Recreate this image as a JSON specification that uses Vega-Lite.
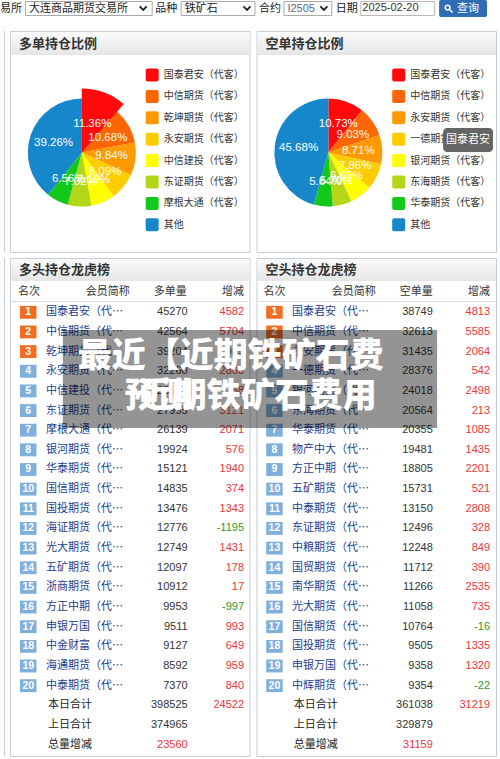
{
  "$schema": "https://vega.github.io/schema/vega-lite/v6.json",
  "width": 500,
  "height": 759,
  "autosize": {"type": "fit", "contains": "padding"},
  "padding": 0,
  "background": "white",
  "config": {"view": {"stroke": null}, "axis": {"disable": true}, "legend": {"disable": true}},
  "datasets": {
    "one": [{"k": 0}],
    "pieL": [
      {"rank": 1, "name": "国泰君安（代客）", "pct": 0.1136},
      {"rank": 2, "name": "中信期货（代客）", "pct": 0.1068},
      {"rank": 3, "name": "乾坤期货（代客）", "pct": 0.0984},
      {"rank": 4, "name": "永安期货（代客）", "pct": 0.0809},
      {"rank": 5, "name": "中信建投（代客）", "pct": 0.0719},
      {"rank": 6, "name": "东证期货（代客）", "pct": 0.0702},
      {"rank": 7, "name": "摩根大通（代客）", "pct": 0.0656},
      {"rank": 8, "name": "其他", "pct": 0.3926}
    ],
    "pieR": [
      {"rank": 1, "name": "国泰君安（代客）", "pct": 0.1073},
      {"rank": 2, "name": "中信期货（代客）", "pct": 0.0903},
      {"rank": 3, "name": "永安期货（代客）", "pct": 0.0871},
      {"rank": 4, "name": "一德期货（代客）", "pct": 0.0786},
      {"rank": 5, "name": "银河期货（代客）", "pct": 0.0665},
      {"rank": 6, "name": "东海期货（代客）", "pct": 0.0570},
      {"rank": 7, "name": "华泰期货（代客）", "pct": 0.0564},
      {"rank": 8, "name": "其他", "pct": 0.4568}
    ],
    "longL": [
      {"rank": 1, "name": "国泰君安（代客）", "vol": 45270, "chg": 4582},
      {"rank": 2, "name": "中信期货（代客）", "vol": 42564, "chg": 5704},
      {"rank": 3, "name": "乾坤期货（代客）", "vol": 39204, "chg": -985},
      {"rank": 4, "name": "永安期货（代客）", "vol": 32260, "chg": 2863},
      {"rank": 5, "name": "中信建投（代客）", "vol": 28650, "chg": 58},
      {"rank": 6, "name": "东证期货（代客）", "vol": 27995, "chg": 3121},
      {"rank": 7, "name": "摩根大通（代客）", "vol": 26139, "chg": 2071},
      {"rank": 8, "name": "银河期货（代客）", "vol": 19924, "chg": 576},
      {"rank": 9, "name": "华泰期货（代客）", "vol": 15121, "chg": 1940},
      {"rank": 10, "name": "国信期货（代客）", "vol": 14835, "chg": 374},
      {"rank": 11, "name": "国投期货（代客）", "vol": 13476, "chg": 1343},
      {"rank": 12, "name": "海证期货（代客）", "vol": 12776, "chg": -1195},
      {"rank": 13, "name": "光大期货（代客）", "vol": 12749, "chg": 1431},
      {"rank": 14, "name": "五矿期货（代客）", "vol": 12097, "chg": 178},
      {"rank": 15, "name": "浙商期货（代客）", "vol": 10912, "chg": 17},
      {"rank": 16, "name": "方正中期（代客）", "vol": 9953, "chg": -997},
      {"rank": 17, "name": "申银万国（代客）", "vol": 9511, "chg": 993},
      {"rank": 18, "name": "中金财富（代客）", "vol": 9127, "chg": 649},
      {"rank": 19, "name": "海通期货（代客）", "vol": 8592, "chg": 959},
      {"rank": 20, "name": "中泰期货（代客）", "vol": 7370, "chg": 840}
    ],
    "shortR": [
      {"rank": 1, "name": "国泰君安（代客）", "vol": 38749, "chg": 4813},
      {"rank": 2, "name": "中信期货（代客）", "vol": 32613, "chg": 5585},
      {"rank": 3, "name": "永安期货（代客）", "vol": 31435, "chg": 2064},
      {"rank": 4, "name": "一德期货（代客）", "vol": 28376, "chg": 542},
      {"rank": 5, "name": "银河期货（代客）", "vol": 24018, "chg": 2498},
      {"rank": 6, "name": "东海期货（代客）", "vol": 20564, "chg": 213},
      {"rank": 7, "name": "华泰期货（代客）", "vol": 20355, "chg": 1085},
      {"rank": 8, "name": "物产中大（代客）", "vol": 19481, "chg": 1435},
      {"rank": 9, "name": "方正中期（代客）", "vol": 18805, "chg": 2201},
      {"rank": 10, "name": "五矿期货（代客）", "vol": 15731, "chg": 521},
      {"rank": 11, "name": "中泰期货（代客）", "vol": 13150, "chg": 2808},
      {"rank": 12, "name": "东证期货（代客）", "vol": 12496, "chg": 328},
      {"rank": 13, "name": "中粮期货（代客）", "vol": 12248, "chg": 849},
      {"rank": 14, "name": "国贸期货（代客）", "vol": 11712, "chg": 390},
      {"rank": 15, "name": "南华期货（代客）", "vol": 11266, "chg": 2535},
      {"rank": 16, "name": "光大期货（代客）", "vol": 11058, "chg": 735},
      {"rank": 17, "name": "国信期货（代客）", "vol": 10764, "chg": -16},
      {"rank": 18, "name": "国投期货（代客）", "vol": 9505, "chg": 1335},
      {"rank": 19, "name": "申银万国（代客）", "vol": 9358, "chg": 1320},
      {"rank": 20, "name": "中辉期货（代客）", "vol": 9354, "chg": -22}
    ],
    "sumL": [
      {"rank": 21, "label": "本日合计", "vol": 398525, "chg": 24522},
      {"rank": 22, "label": "上日合计", "vol": 374965},
      {"rank": 23, "label": "总量增减", "diff": 23560}
    ],
    "sumR": [
      {"rank": 21, "label": "本日合计", "vol": 361038, "chg": 31219},
      {"rank": 22, "label": "上日合计", "vol": 329879},
      {"rank": 23, "label": "总量增减", "diff": 31159}
    ]
  },
  "resolve": {"scale": {"y": "independent"}},
  "layer": [
    {
      "data": {"name": "one"},
      "layer": [
        {"mark": {"type": "rule", "color": "#c5ced8"}, "encoding": {"x": {"datum": 3.5, "scale": {"domain": [0, 500], "nice": false, "zero": false}}, "y": {"datum": 31, "scale": {"domain": [0, 759], "reverse": true, "nice": false, "zero": false}}, "y2": {"datum": 252}}},
        {"mark": {"type": "rule", "color": "#c5ced8"}, "encoding": {"x": {"datum": 3.5}, "y": {"datum": 258}, "y2": {"datum": 756}}},
        {"mark": {"type": "rect", "fill": "#ffffff", "stroke": "#c5ced8", "strokeWidth": 1}, "encoding": {"x": {"datum": 9.5}, "x2": {"datum": 249.5}, "y": {"datum": 31.5}, "y2": {"datum": 252.5}}},
        {"mark": {"type": "rect", "fill": "#ffffff", "stroke": "#c5ced8", "strokeWidth": 1}, "encoding": {"x": {"datum": 256.5}, "x2": {"datum": 496.5}, "y": {"datum": 31.5}, "y2": {"datum": 252.5}}},
        {"mark": {"type": "rect", "fill": "#ffffff", "stroke": "#c5ced8", "strokeWidth": 1}, "encoding": {"x": {"datum": 9.5}, "x2": {"datum": 249.5}, "y": {"datum": 258.5}, "y2": {"datum": 756.5}}},
        {"mark": {"type": "rect", "fill": "#ffffff", "stroke": "#c5ced8", "strokeWidth": 1}, "encoding": {"x": {"datum": 256.5}, "x2": {"datum": 496.5}, "y": {"datum": 258.5}, "y2": {"datum": 756.5}}},
        {"mark": {"type": "rect", "fill": {"gradient": "linear", "x1": 0, "y1": 0, "x2": 0, "y2": 1, "stops": [{"offset": 0, "color": "#fbfbfb"}, {"offset": 1, "color": "#e5e5e5"}]}}, "encoding": {"x": {"datum": 10}, "x2": {"datum": 249}, "y": {"datum": 32}, "y2": {"datum": 55}}},
        {"mark": {"type": "rect", "fill": {"gradient": "linear", "x1": 0, "y1": 0, "x2": 0, "y2": 1, "stops": [{"offset": 0, "color": "#fbfbfb"}, {"offset": 1, "color": "#e5e5e5"}]}}, "encoding": {"x": {"datum": 257}, "x2": {"datum": 496}, "y": {"datum": 32}, "y2": {"datum": 55}}},
        {"mark": {"type": "rect", "fill": {"gradient": "linear", "x1": 0, "y1": 0, "x2": 0, "y2": 1, "stops": [{"offset": 0, "color": "#fbfbfb"}, {"offset": 1, "color": "#e5e5e5"}]}}, "encoding": {"x": {"datum": 10}, "x2": {"datum": 249}, "y": {"datum": 259}, "y2": {"datum": 281}}},
        {"mark": {"type": "rect", "fill": {"gradient": "linear", "x1": 0, "y1": 0, "x2": 0, "y2": 1, "stops": [{"offset": 0, "color": "#fbfbfb"}, {"offset": 1, "color": "#e5e5e5"}]}}, "encoding": {"x": {"datum": 257}, "x2": {"datum": 496}, "y": {"datum": 259}, "y2": {"datum": 281}}},
        {"mark": {"type": "text", "text": "多单持仓比例", "align": "left", "baseline": "middle", "font": "Noto Sans CJK SC", "fontSize": 13, "fontWeight": "bold", "color": "#333333"}, "encoding": {"x": {"datum": 18}, "y": {"datum": 43.5}}},
        {"mark": {"type": "text", "text": "空单持仓比例", "align": "left", "baseline": "middle", "font": "Noto Sans CJK SC", "fontSize": 13, "fontWeight": "bold", "color": "#333333"}, "encoding": {"x": {"datum": 265}, "y": {"datum": 43.5}}},
        {"mark": {"type": "text", "text": "多头持仓龙虎榜", "align": "left", "baseline": "middle", "font": "Noto Sans CJK SC", "fontSize": 13, "fontWeight": "bold", "color": "#333333"}, "encoding": {"x": {"datum": 18}, "y": {"datum": 270}}},
        {"mark": {"type": "text", "text": "空头持仓龙虎榜", "align": "left", "baseline": "middle", "font": "Noto Sans CJK SC", "fontSize": 13, "fontWeight": "bold", "color": "#333333"}, "encoding": {"x": {"datum": 265}, "y": {"datum": 270}}},
        {"mark": {"type": "text", "text": "名次", "align": "left", "baseline": "middle", "font": "Noto Sans CJK SC", "fontSize": 11, "color": "#333333"}, "encoding": {"x": {"datum": 17}, "y": {"datum": 292}}},
        {"mark": {"type": "text", "text": "会员简称", "align": "center", "baseline": "middle", "font": "Noto Sans CJK SC", "fontSize": 11, "color": "#333333"}, "encoding": {"x": {"datum": 107}, "y": {"datum": 292}}},
        {"mark": {"type": "text", "text": "多单量", "align": "center", "baseline": "middle", "font": "Noto Sans CJK SC", "fontSize": 11, "color": "#333333"}, "encoding": {"x": {"datum": 169.5}, "y": {"datum": 292}}},
        {"mark": {"type": "text", "text": "增减", "align": "right", "baseline": "middle", "font": "Noto Sans CJK SC", "fontSize": 11, "color": "#333333"}, "encoding": {"x": {"datum": 243.5}, "y": {"datum": 292}}},
        {"mark": {"type": "text", "text": "名次", "align": "left", "baseline": "middle", "font": "Noto Sans CJK SC", "fontSize": 11, "color": "#333333"}, "encoding": {"x": {"datum": 263}, "y": {"datum": 292}}},
        {"mark": {"type": "text", "text": "会员简称", "align": "center", "baseline": "middle", "font": "Noto Sans CJK SC", "fontSize": 11, "color": "#333333"}, "encoding": {"x": {"datum": 353.5}, "y": {"datum": 292}}},
        {"mark": {"type": "text", "text": "空单量", "align": "center", "baseline": "middle", "font": "Noto Sans CJK SC", "fontSize": 11, "color": "#333333"}, "encoding": {"x": {"datum": 416}, "y": {"datum": 292}}},
        {"mark": {"type": "text", "text": "增减", "align": "right", "baseline": "middle", "font": "Noto Sans CJK SC", "fontSize": 11, "color": "#333333"}, "encoding": {"x": {"datum": 490}, "y": {"datum": 292}}},
        {"mark": {"type": "rule", "color": "#d6dde5"}, "encoding": {"x": {"datum": 10}, "x2": {"datum": 249}, "y": {"datum": 301.5}}},
        {"mark": {"type": "rule", "color": "#d6dde5"}, "encoding": {"x": {"datum": 257}, "x2": {"datum": 496}, "y": {"datum": 301.5}}},
        {"mark": {"type": "rect", "fill": "#ffffff", "stroke": "#a9a9a9"}, "encoding": {"x": {"datum": 24.5}, "x2": {"datum": 151.5}, "y": {"datum": 1.5}, "y2": {"datum": 15.5}}},
        {"mark": {"type": "rect", "fill": "#ffffff", "stroke": "#a9a9a9"}, "encoding": {"x": {"datum": 180.5}, "x2": {"datum": 254.5}, "y": {"datum": 1.5}, "y2": {"datum": 15.5}}},
        {"mark": {"type": "rect", "fill": "#ffffff", "stroke": "#a9a9a9"}, "encoding": {"x": {"datum": 283.5}, "x2": {"datum": 331.5}, "y": {"datum": 1.5}, "y2": {"datum": 15.5}}},
        {"mark": {"type": "rect", "fill": "#ffffff", "stroke": "#b8b8b8"}, "encoding": {"x": {"datum": 360.5}, "x2": {"datum": 434.5}, "y": {"datum": 1.5}, "y2": {"datum": 15.5}}},
        {"mark": {"type": "rect", "fill": "#2f6db4", "cornerRadius": 2}, "encoding": {"x": {"datum": 439}, "x2": {"datum": 487}, "y": {"datum": 0}, "y2": {"datum": 17}}},
        {"mark": {"type": "text", "text": "易所", "align": "left", "baseline": "middle", "font": "Noto Sans CJK SC", "fontSize": 11, "color": "#222222"}, "encoding": {"x": {"datum": -1}, "y": {"datum": 8.5}}},
        {"mark": {"type": "text", "text": "大连商品期货交易所", "align": "left", "baseline": "middle", "font": "Noto Sans CJK SC", "fontSize": 11, "color": "#222222"}, "encoding": {"x": {"datum": 28}, "y": {"datum": 8.5}}},
        {"mark": {"type": "text", "text": "品种", "align": "left", "baseline": "middle", "font": "Noto Sans CJK SC", "fontSize": 11, "color": "#222222"}, "encoding": {"x": {"datum": 154.5}, "y": {"datum": 8.5}}},
        {"mark": {"type": "text", "text": "铁矿石", "align": "left", "baseline": "middle", "font": "Noto Sans CJK SC", "fontSize": 11, "color": "#222222"}, "encoding": {"x": {"datum": 184}, "y": {"datum": 8.5}}},
        {"mark": {"type": "text", "text": "合约", "align": "left", "baseline": "middle", "font": "Noto Sans CJK SC", "fontSize": 11, "color": "#222222"}, "encoding": {"x": {"datum": 258.5}, "y": {"datum": 8.5}}},
        {"mark": {"type": "text", "text": "I2505", "align": "left", "baseline": "middle", "font": "Liberation Sans", "fontSize": 11, "color": "#5c6a8c"}, "encoding": {"x": {"datum": 287}, "y": {"datum": 8.5}}},
        {"mark": {"type": "text", "text": "日期", "align": "left", "baseline": "middle", "font": "Noto Sans CJK SC", "fontSize": 11, "color": "#222222"}, "encoding": {"x": {"datum": 335.5}, "y": {"datum": 8.5}}},
        {"mark": {"type": "text", "text": "2025-02-20", "align": "left", "baseline": "middle", "font": "Liberation Sans", "fontSize": 11, "color": "#333333"}, "encoding": {"x": {"datum": 362}, "y": {"datum": 8}}},
        {"mark": {"type": "text", "text": "查询", "align": "left", "baseline": "middle", "font": "Noto Sans CJK SC", "fontSize": 11, "color": "#ffffff"}, "encoding": {"x": {"datum": 457}, "y": {"datum": 8.5}}},
        {"mark": {"type": "point", "shape": "circle", "size": 22, "filled": false, "stroke": "#ffffff", "strokeWidth": 1.5, "opacity": 1}, "encoding": {"x": {"datum": 447.5}, "y": {"datum": 7.5}}},
        {"mark": {"type": "rule", "color": "#ffffff", "strokeWidth": 1.6}, "encoding": {"x": {"datum": 449.5}, "x2": {"datum": 452.5}, "y": {"datum": 9.5}, "y2": {"datum": 12.5}}},
        {"mark": {"type": "point", "shape": "M-1,-0.45L0,0.55L1,-0.45", "size": 50, "filled": false, "stroke": "#222222", "strokeWidth": 1.8, "opacity": 1}, "encoding": {"x": {"datum": 142.5}, "y": {"datum": 8}}},
        {"mark": {"type": "point", "shape": "M-1,-0.45L0,0.55L1,-0.45", "size": 50, "filled": false, "stroke": "#222222", "strokeWidth": 1.8, "opacity": 1}, "encoding": {"x": {"datum": 246.5}, "y": {"datum": 8}}},
        {"mark": {"type": "point", "shape": "M-1,-0.45L0,0.55L1,-0.45", "size": 50, "filled": false, "stroke": "#222222", "strokeWidth": 1.8, "opacity": 1}, "encoding": {"x": {"datum": 323.5}, "y": {"datum": 8}}},
        {
          "data": {"name": "pieL"},
          "mark": {"type": "arc", "outerRadius": 54},
          "encoding": {
            "x": {"datum": 81}, "y": {"datum": 152.5},
            "theta": {"field": "pct", "type": "quantitative", "stack": true, "scale": {"domain": [0, 1]}},
            "order": {"field": "rank", "type": "quantitative"},
            "color": {"field": "rank", "type": "ordinal", "scale": {"domain": [1, 2, 3, 4, 5, 6, 7, 8], "range": ["#ff0a0a", "#ff6600", "#ff9900", "#ffcc00", "#ffff00", "#b3d718", "#12c81a", "#1787cc"]}}
          }
        },
        {
          "data": {"name": "pieL"},
          "transform": [{"filter": "datum.rank == 1"}],
          "mark": {"type": "arc", "outerRadius": 64},
          "encoding": {
            "x": {"datum": 81}, "y": {"datum": 152.5},
            "theta": {"field": "pct", "type": "quantitative", "stack": true},
            "order": {"field": "rank", "type": "quantitative"},
            "color": {"field": "rank", "type": "ordinal"}
          }
        },
        {
          "data": {"name": "pieL"},
          "mark": {"type": "text", "radius": 30, "align": "center", "baseline": "middle", "font": "Liberation Sans", "fontSize": 11.5, "color": "#ffffff"},
          "encoding": {
            "x": {"datum": 81}, "y": {"datum": 152.5},
            "theta": {"field": "pct", "type": "quantitative", "stack": true},
            "order": {"field": "rank", "type": "quantitative"},
            "text": {"field": "pct", "type": "quantitative", "format": ".2%"}
          }
        },
        {
          "data": {"name": "pieR"},
          "mark": {"type": "arc", "outerRadius": 54},
          "encoding": {
            "x": {"datum": 328}, "y": {"datum": 152.5},
            "theta": {"field": "pct", "type": "quantitative", "stack": true},
            "order": {"field": "rank", "type": "quantitative"},
            "color": {"field": "rank", "type": "ordinal"}
          }
        },
        {
          "data": {"name": "pieR"},
          "mark": {"type": "text", "radius": 30, "align": "center", "baseline": "middle", "font": "Liberation Sans", "fontSize": 11.5, "color": "#ffffff"},
          "encoding": {
            "x": {"datum": 328}, "y": {"datum": 152.5},
            "theta": {"field": "pct", "type": "quantitative", "stack": true},
            "order": {"field": "rank", "type": "quantitative"},
            "text": {"field": "pct", "type": "quantitative", "format": ".2%"}
          }
        }
      ]
    },
    {
      "layer": [
        {
          "data": {"name": "pieL"},
          "mark": {"type": "point", "shape": "M-0.7,-1H0.7Q1,-1 1,-0.7V0.7Q1,1 0.7,1H-0.7Q-1,1 -1,0.7V-0.7Q-1,-1 -0.7,-1Z", "size": 169, "filled": true, "opacity": 1, "strokeWidth": 0},
          "encoding": {
            "x": {"datum": 151.5},
            "y": {"field": "rank", "type": "quantitative", "scale": {"domain": [-2.5047, 32.963], "reverse": true, "nice": false, "zero": false}},
            "color": {"field": "rank", "type": "ordinal"}
          }
        },
        {
          "data": {"name": "pieL"},
          "mark": {"type": "text", "align": "left", "baseline": "middle", "font": "Noto Sans CJK SC", "fontSize": 10, "color": "#333333"},
          "encoding": {"x": {"datum": 163}, "y": {"field": "rank", "type": "quantitative"}, "text": {"field": "name"}}
        },
        {
          "data": {"name": "pieR"},
          "mark": {"type": "point", "shape": "M-0.7,-1H0.7Q1,-1 1,-0.7V0.7Q1,1 0.7,1H-0.7Q-1,1 -1,0.7V-0.7Q-1,-1 -0.7,-1Z", "size": 169, "filled": true, "opacity": 1, "strokeWidth": 0},
          "encoding": {"x": {"datum": 398.5}, "y": {"field": "rank", "type": "quantitative"}, "color": {"field": "rank", "type": "ordinal"}}
        },
        {
          "data": {"name": "pieR"},
          "mark": {"type": "text", "align": "left", "baseline": "middle", "font": "Noto Sans CJK SC", "fontSize": 10, "color": "#333333"},
          "encoding": {"x": {"datum": 410}, "y": {"field": "rank", "type": "quantitative"}, "text": {"field": "name"}}
        }
      ]
    },
    {
      "layer": [
        {
          "data": {"name": "longL"},
          "mark": {"type": "point", "shape": "M-1,-0.78H1V0.78H-1Z", "size": 272, "filled": true, "opacity": 1, "strokeWidth": 0},
          "encoding": {
            "x": {"datum": 27.3},
            "y": {"field": "rank", "type": "quantitative", "scale": {"domain": [-14.893, 23.733], "reverse": true, "nice": false, "zero": false}},
            "color": {"condition": {"test": "datum.rank <= 3", "value": "#f26d21"}, "value": "#7fb0dc"}
          }
        },
        {
          "data": {"name": "longL"},
          "mark": {"type": "text", "align": "center", "baseline": "middle", "font": "Liberation Sans", "fontSize": 10.5, "fontWeight": "bold", "color": "#ffffff"},
          "encoding": {"x": {"datum": 27.3}, "y": {"field": "rank", "type": "quantitative"}, "text": {"field": "rank", "type": "nominal"}}
        },
        {
          "data": {"name": "longL"},
          "mark": {"type": "text", "align": "left", "baseline": "middle", "font": "Noto Sans CJK SC", "fontSize": 11, "color": "#23408e", "limit": 79},
          "encoding": {"x": {"datum": 45}, "y": {"field": "rank", "type": "quantitative"}, "text": {"field": "name"}}
        },
        {
          "data": {"name": "longL"},
          "mark": {"type": "text", "align": "right", "baseline": "middle", "font": "Liberation Sans", "fontSize": 11, "color": "#333333"},
          "encoding": {"x": {"datum": 187}, "y": {"field": "rank", "type": "quantitative"}, "text": {"field": "vol", "type": "nominal"}}
        },
        {
          "data": {"name": "longL"},
          "mark": {"type": "text", "align": "right", "baseline": "middle", "font": "Liberation Sans", "fontSize": 11},
          "encoding": {"x": {"datum": 243.5}, "y": {"field": "rank", "type": "quantitative"}, "text": {"field": "chg", "type": "nominal"}, "color": {"condition": {"test": "datum.chg < 0", "value": "#2e9a2e"}, "value": "#e8363d"}}
        },
        {
          "data": {"name": "shortR"},
          "mark": {"type": "point", "shape": "M-1,-0.78H1V0.78H-1Z", "size": 272, "filled": true, "opacity": 1, "strokeWidth": 0},
          "encoding": {"x": {"datum": 274}, "y": {"field": "rank", "type": "quantitative"}, "color": {"condition": {"test": "datum.rank <= 3", "value": "#f26d21"}, "value": "#7fb0dc"}}
        },
        {
          "data": {"name": "shortR"},
          "mark": {"type": "text", "align": "center", "baseline": "middle", "font": "Liberation Sans", "fontSize": 10.5, "fontWeight": "bold", "color": "#ffffff"},
          "encoding": {"x": {"datum": 274}, "y": {"field": "rank", "type": "quantitative"}, "text": {"field": "rank", "type": "nominal"}}
        },
        {
          "data": {"name": "shortR"},
          "mark": {"type": "text", "align": "left", "baseline": "middle", "font": "Noto Sans CJK SC", "fontSize": 11, "color": "#23408e", "limit": 79},
          "encoding": {"x": {"datum": 291.7}, "y": {"field": "rank", "type": "quantitative"}, "text": {"field": "name"}}
        },
        {
          "data": {"name": "shortR"},
          "mark": {"type": "text", "align": "right", "baseline": "middle", "font": "Liberation Sans", "fontSize": 11, "color": "#333333"},
          "encoding": {"x": {"datum": 432.7}, "y": {"field": "rank", "type": "quantitative"}, "text": {"field": "vol", "type": "nominal"}}
        },
        {
          "data": {"name": "shortR"},
          "mark": {"type": "text", "align": "right", "baseline": "middle", "font": "Liberation Sans", "fontSize": 11},
          "encoding": {"x": {"datum": 490}, "y": {"field": "rank", "type": "quantitative"}, "text": {"field": "chg", "type": "nominal"}, "color": {"condition": {"test": "datum.chg < 0", "value": "#2e9a2e"}, "value": "#e8363d"}}
        },
        {
          "data": {"name": "sumL"},
          "mark": {"type": "text", "align": "left", "baseline": "middle", "font": "Noto Sans CJK SC", "fontSize": 11, "color": "#222222"},
          "encoding": {"x": {"datum": 47}, "y": {"field": "rank", "type": "quantitative"}, "text": {"field": "label"}}
        },
        {
          "data": {"name": "sumL"},
          "transform": [{"filter": "isValid(datum.vol)"}],
          "mark": {"type": "text", "align": "right", "baseline": "middle", "font": "Liberation Sans", "fontSize": 11, "color": "#333333"},
          "encoding": {"x": {"datum": 187}, "y": {"field": "rank", "type": "quantitative"}, "text": {"field": "vol", "type": "nominal"}}
        },
        {
          "data": {"name": "sumL"},
          "transform": [{"filter": "isValid(datum.chg)"}],
          "mark": {"type": "text", "align": "right", "baseline": "middle", "font": "Liberation Sans", "fontSize": 11, "color": "#e8363d"},
          "encoding": {"x": {"datum": 243.5}, "y": {"field": "rank", "type": "quantitative"}, "text": {"field": "chg", "type": "nominal"}}
        },
        {
          "data": {"name": "sumL"},
          "transform": [{"filter": "isValid(datum.diff)"}],
          "mark": {"type": "text", "align": "right", "baseline": "middle", "font": "Liberation Sans", "fontSize": 11, "color": "#e8363d"},
          "encoding": {"x": {"datum": 187}, "y": {"field": "rank", "type": "quantitative"}, "text": {"field": "diff", "type": "nominal"}}
        },
        {
          "data": {"name": "sumR"},
          "mark": {"type": "text", "align": "left", "baseline": "middle", "font": "Noto Sans CJK SC", "fontSize": 11, "color": "#222222"},
          "encoding": {"x": {"datum": 293.3}, "y": {"field": "rank", "type": "quantitative"}, "text": {"field": "label"}}
        },
        {
          "data": {"name": "sumR"},
          "transform": [{"filter": "isValid(datum.vol)"}],
          "mark": {"type": "text", "align": "right", "baseline": "middle", "font": "Liberation Sans", "fontSize": 11, "color": "#333333"},
          "encoding": {"x": {"datum": 432.7}, "y": {"field": "rank", "type": "quantitative"}, "text": {"field": "vol", "type": "nominal"}}
        },
        {
          "data": {"name": "sumR"},
          "transform": [{"filter": "isValid(datum.chg)"}],
          "mark": {"type": "text", "align": "right", "baseline": "middle", "font": "Liberation Sans", "fontSize": 11, "color": "#e8363d"},
          "encoding": {"x": {"datum": 490}, "y": {"field": "rank", "type": "quantitative"}, "text": {"field": "chg", "type": "nominal"}}
        },
        {
          "data": {"name": "sumR"},
          "transform": [{"filter": "isValid(datum.diff)"}],
          "mark": {"type": "text", "align": "right", "baseline": "middle", "font": "Liberation Sans", "fontSize": 11, "color": "#e8363d"},
          "encoding": {"x": {"datum": 432.7}, "y": {"field": "rank", "type": "quantitative"}, "text": {"field": "diff", "type": "nominal"}}
        }
      ]
    },
    {
      "data": {"name": "one"},
      "layer": [
        {"mark": {"type": "rect", "fill": "#000000", "opacity": 0.42}, "encoding": {"x": {"datum": 62}, "x2": {"datum": 437}, "y": {"datum": 330, "scale": {"domain": [0, 759], "reverse": true, "nice": false, "zero": false}}, "y2": {"datum": 428}}},
        {"mark": {"type": "text", "text": "最近【近期铁矿石费", "align": "left", "baseline": "middle", "font": "Noto Sans CJK SC", "fontSize": 34, "fontWeight": 900, "color": "#ffffff"}, "encoding": {"x": {"datum": 77}, "y": {"datum": 357}}},
        {"mark": {"type": "text", "text": "近期铁矿石费用", "align": "left", "baseline": "middle", "font": "Noto Sans CJK SC", "fontSize": 34, "fontWeight": 900, "color": "#ffffff"}, "encoding": {"x": {"datum": 138}, "y": {"datum": 397}}},
        {"mark": {"type": "text", "text": "预测", "align": "left", "baseline": "middle", "font": "Noto Sans CJK SC", "fontSize": 34, "fontWeight": 900, "color": "#ffffff"}, "encoding": {"x": {"datum": 124}, "y": {"datum": 397}}},
        {"mark": {"type": "rect", "fill": "#585858", "opacity": 0.92, "cornerRadius": 4}, "encoding": {"x": {"datum": 443}, "x2": {"datum": 493}, "y": {"datum": 128}, "y2": {"datum": 152}}},
        {"mark": {"type": "text", "text": "国泰君安", "align": "center", "baseline": "middle", "font": "Noto Sans CJK SC", "fontSize": 11, "color": "#ffffff"}, "encoding": {"x": {"datum": 468}, "y": {"datum": 140}}}
      ]
    }
  ]
}
